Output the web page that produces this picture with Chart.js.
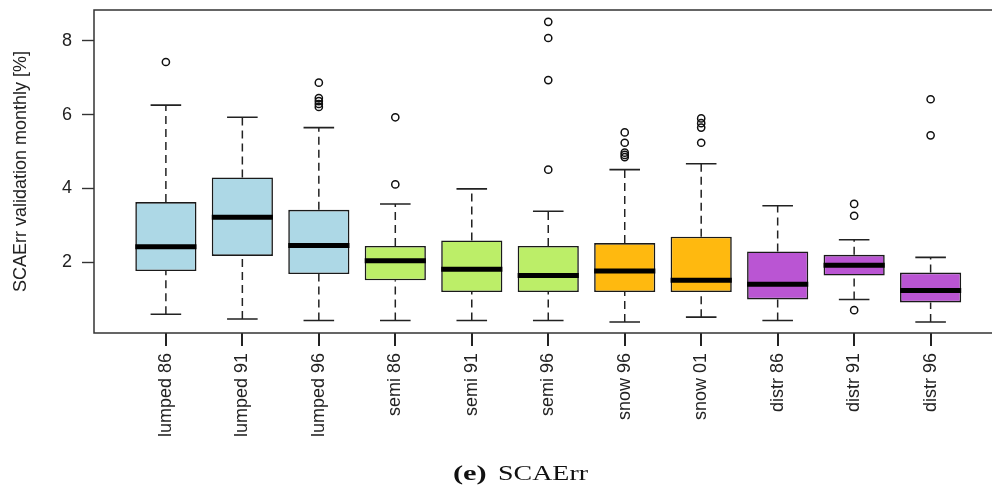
<!DOCTYPE html>
<html>
<head>
<meta charset="utf-8">
<script src="https://cdn.jsdelivr.net/npm/chart.js@4/dist/chart.umd.min.js"></script>
<style>
  html, body { margin: 0; padding: 0; background: #fff; overflow: hidden; }
  #wrap { position: relative; width: 992px; height: 491px; overflow: hidden; }
  #grafica { position: absolute; left: 0; top: 0; }
  .pie {
    position: absolute; top: 462px;
    font-family: "Liberation Serif", "DejaVu Serif", serif;
    font-size: 22px; line-height: 1; color: #111; white-space: nowrap;
    transform-origin: 0 0;
  }
  #pieLetra { left: 453px; font-weight: bold; transform: scaleX(1.38); }
  #pieTexto { left: 498px; transform: scaleX(1.27); }
</style>
</head>
<body>
<div id="wrap">
  <canvas id="grafica" width="1008" height="491"></canvas>
  <div class="pie" id="pieLetra">(e)</div>
  <div class="pie" id="pieTexto">SCAErr</div>
</div>
<script>
// ── DATOS ──────────────────────────────────────────────────────
const categorias = ['lumped 86', 'lumped 91', 'lumped 96', 'semi 86', 'semi 91', 'semi 96',
                    'snow 96', 'snow 01', 'distr 86', 'distr 91', 'distr 96'];
const bigoteInf  = [0.59, 0.46, 0.42, 0.42, 0.42, 0.42, 0.38, 0.51, 0.42, 0.99, 0.38];
const cuartil1   = [1.76, 2.17, 1.68, 1.51, 1.19, 1.19, 1.19, 1.19, 0.99, 1.64, 0.91];
const mediana    = [2.42, 3.22, 2.45, 2.04, 1.81, 1.64, 1.76, 1.51, 1.40, 1.92, 1.23];
const cuartil3   = [3.63, 4.30, 3.42, 2.44, 2.59, 2.44, 2.52, 2.69, 2.29, 2.20, 1.72];
const bigoteSup  = [6.26, 5.93, 5.65, 3.58, 3.99, 3.38, 4.51, 4.67, 3.53, 2.61, 2.13];
const atipicos   = [
    [7.43], [], [6.87, 6.45, 6.37, 6.29, 6.21],
    [5.93, 4.11], [], [8.52, 8.08, 6.94, 4.51],
    [5.52, 5.24, 4.97, 4.91, 4.85], [5.90, 5.77, 5.65, 5.24],
    [], [3.58, 3.26, 0.70], [6.42, 5.44]
];
const ticksY  = [2, 4, 6, 8];
const colores = ['#add8e6', '#add8e6', '#add8e6', '#bcee68', '#bcee68', '#bcee68',
                 '#ffb90f', '#ffb90f', '#ba55d3', '#ba55d3', '#ba55d3'];

// ── SEGMENTOS (bigotes, topes, medianas) ───────────────────────
const posiciones = categorias.map((_, i) => i + 1);

function segmentos(pares) {
    // cada par [x0, y0, x1, y1] + un hueco con y null
    const out = [];
    pares.forEach(([x0, y0, x1, y1]) => {
        out.push({ x: x0, y: y0 }, { x: x1, y: y1 }, { x: x1, y: null });
    });
    return out;
}

const lineasBigote = segmentos(posiciones.flatMap((x, i) => [
    [x, cuartil3[i], x, bigoteSup[i]],
    [x, bigoteInf[i], x, cuartil1[i]]
]));
const topes = segmentos(posiciones.flatMap((x, i) => [
    [x - 0.2, bigoteSup[i], x + 0.2, bigoteSup[i]],
    [x - 0.2, bigoteInf[i], x + 0.2, bigoteInf[i]]
]));
const medianas = segmentos(posiciones.map((x, i) => [x - 0.4, mediana[i], x + 0.4, mediana[i]]));
const puntos = posiciones.flatMap((x, i) => atipicos[i].map(v => ({ x: x, y: v })));

// ── MARCO Y MARCAS DEL EJE X ───────────────────────────────────
const marco = {
    id: 'marco',
    afterDraw(chart) {
        const { ctx, chartArea: a } = chart;
        const ejeX = chart.scales.x;
        ctx.save();
        ctx.fillStyle = '#222';
        posiciones.forEach(v => {
            const px = ejeX.getPixelForValue(v);
            ctx.fillRect(Math.round(px) - 1, Math.round(a.bottom), 2, 13);
        });
        ctx.strokeStyle = '#333';
        ctx.lineWidth = 1.5;
        ctx.strokeRect(a.left, a.top, a.right - a.left, a.bottom - a.top);
        ctx.restore();
    }
};

const fuente = { family: '"Liberation Sans", Arial, sans-serif', size: 18 };

new Chart(document.getElementById('grafica'), {
    type: 'bar',
    data: {
        datasets: [
            {
                type: 'bar',
                data: posiciones.map((x, i) => ({ x: x, y: [cuartil1[i], cuartil3[i]] })),
                backgroundColor: colores,
                borderColor: '#1a1a1a',
                borderWidth: 1.6,
                borderSkipped: false,
                categoryPercentage: 0.8,
                barPercentage: 1,
                order: 2
            },
            {
                type: 'line',
                data: lineasBigote,
                borderColor: '#222',
                borderWidth: 1.5,
                borderDash: [8, 5],
                pointRadius: 0,
                spanGaps: false,
                fill: false,
                order: 3
            },
            {
                type: 'line',
                data: topes,
                borderColor: '#222',
                borderWidth: 1.6,
                pointRadius: 0,
                spanGaps: false,
                fill: false,
                order: 3
            },
            {
                type: 'line',
                data: medianas,
                borderColor: '#000',
                borderWidth: 5,
                borderCapStyle: 'butt',
                pointRadius: 0,
                spanGaps: false,
                fill: false,
                order: 0
            },
            {
                type: 'scatter',
                data: puntos,
                pointRadius: 3.6,
                pointBorderWidth: 1.5,
                pointBorderColor: '#111',
                pointBackgroundColor: 'rgba(0,0,0,0)',
                showLine: false,
                order: 0
            }
        ]
    },
    options: {
        responsive: false,
        animation: false,
        layout: { padding: { top: 10, right: 4, bottom: 0, left: 0 } },
        plugins: { legend: { display: false }, tooltip: { enabled: false } },
        scales: {
            x: {
                type: 'linear',
                min: 0.06,
                max: 11.94,
                offset: false,
                afterBuildTicks: s => { s.ticks = posiciones.map(v => ({ value: v })); },
                afterFit: s => { s.height = 158; },
                ticks: {
                    autoSkip: false,
                    minRotation: 90,
                    maxRotation: 90,
                    padding: 12,
                    color: '#222',
                    font: fuente,
                    callback: v => categorias[v - 1]
                },
                grid: { display: false },
                border: { display: false }
            },
            y: {
                min: 0.08,
                max: 8.84,
                afterBuildTicks: s => { s.ticks = ticksY.map(v => ({ value: v })); },
                afterFit: s => { s.width = 94; s.paddingTop = 0; s.paddingBottom = 0; },
                ticks: { padding: 10, color: '#222', font: fuente },
                grid: { drawOnChartArea: false, tickLength: 12, tickColor: '#333', tickWidth: 1.4 },
                border: { display: false },
                title: {
                    display: true,
                    text: 'SCAErr validation monthly [%]',
                    color: '#222',
                    font: fuente,
                    padding: { top: 10, bottom: 0 }
                }
            }
        }
    },
    plugins: [marco]
});
</script>
</body>
</html>
